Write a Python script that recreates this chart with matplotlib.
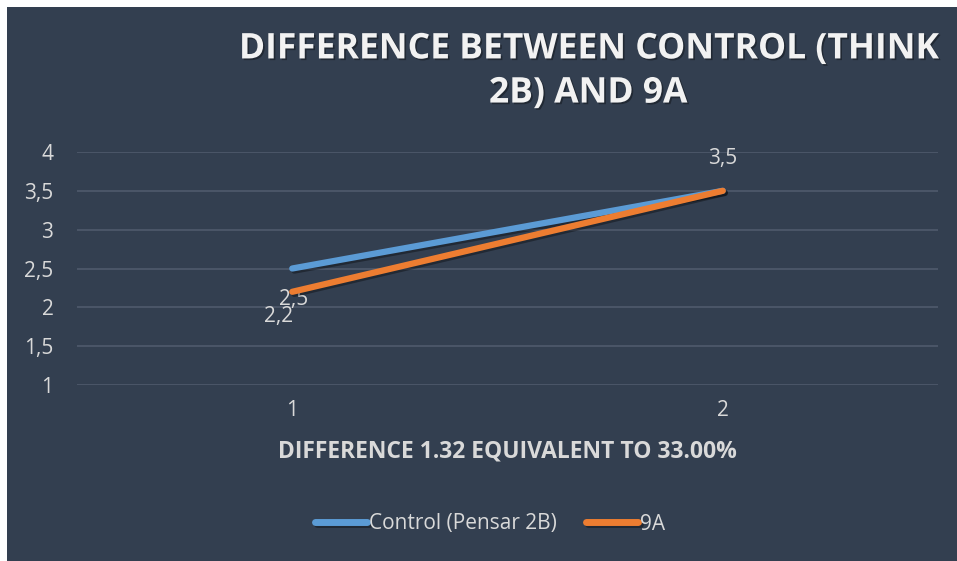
import matplotlib
matplotlib.use('Agg')
from matplotlib import pyplot as plt
from matplotlib.patches import Rectangle
import matplotlib.patheffects as pe

categories = [1, 2]
control = [2.5, 3.5]
group_9a = [2.2, 3.5]
series_names = ['Control (Pensar 2B)', '9A']
y_ticks = [1, 1.5, 2, 2.5, 3, 3.5, 4]
y_tick_labels = ['1', '1,5', '2', '2,5', '3', '3,5', '4']

bg = '#333f50'
txt = '#d9d9d9'
blue = '#5b9bd5'
orange = '#ed7d31'

plt.rcParams['font.family'] = ['Open Sans', 'DejaVu Sans']

fig = plt.figure(figsize=(9.57, 5.61), dpi=100)
fig.patch.set_facecolor('white')
fig.patches.append(Rectangle((7 / 957, 0), 1 - 7 / 957, 1 - 7 / 561,
                             transform=fig.transFigure, facecolor=bg,
                             edgecolor='none', zorder=-10))

ax = fig.add_axes([77 / 957, 1 - 385 / 561, (938 - 77) / 957, (385 - 152) / 561])
ax.set_facecolor(bg)

shadow = [pe.SimpleLineShadow(offset=(1.5, -1.5), shadow_color='black', alpha=0.35),
          pe.Normal()]
ax.plot(categories, control, color=blue, lw=4.5, solid_capstyle='round',
        label=series_names[0], path_effects=shadow, zorder=3)
ax.plot(categories, group_9a, color=orange, lw=4.5, solid_capstyle='round',
        label=series_names[1], path_effects=shadow, zorder=4)

# data labels
def fmt(v):
    return ('%g' % v).replace('.', ',')

lab_fs = 15
ax.annotate(fmt(control[0]), (categories[0], control[0]), xytext=(1, -22.5),
            textcoords='offset points', ha='center', va='center', color=txt, fontsize=lab_fs)
ax.annotate(fmt(group_9a[0]), (categories[0], group_9a[0]), xytext=(-10, -18),
            textcoords='offset points', ha='center', va='center', color=txt, fontsize=lab_fs)
ax.annotate(fmt(control[1]), (categories[1], control[1]), xytext=(0, 23),
            textcoords='offset points', ha='center', va='center', color=txt, fontsize=lab_fs)

ax.set_xlim(0.5, 2.5)
ax.set_ylim(1, 4)
ax.set_yticks(y_ticks)
ax.set_yticklabels(y_tick_labels)
ax.set_xticks(categories)
ax.set_xticklabels([str(c) for c in categories])
ax.tick_params(axis='both', length=0, colors=txt, labelsize=15)
ax.tick_params(axis='y', pad=17)
ax.tick_params(axis='x', pad=11)
ax.grid(axis='y', color='#4a5567', lw=1.5)
ax.set_axisbelow(True)
for s in ax.spines.values():
    s.set_visible(False)

ax.set_xlabel('DIFFERENCE 1.32 EQUIVALENT TO 33.00%', color=txt, fontsize=16.5,
              fontweight='bold', labelpad=13)

fig.text(588 / 957, 1 - 71.5 / 561, 'DIFFERENCE BETWEEN CONTROL (THINK\n2B) AND 9A',
         ha='center', va='center', color='#f2f2f2', fontsize=25.5, fontweight='bold',
         linespacing=1.3,
         path_effects=[pe.withSimplePatchShadow(offset=(1.2, -1.2), shadow_rgbFace='black', alpha=0.35)])

leg = fig.legend(loc='center', bbox_to_anchor=(490 / 957, 1 - 524 / 561), ncol=2,
                 frameon=False, fontsize=15, handlelength=2.5, handletextpad=0.1,
                 columnspacing=1.4, labelcolor=txt)
for line in leg.get_lines():
    line.set_linewidth(5)
    line.set_solid_capstyle('round')

fig.savefig('out.png', dpi=100, facecolor=fig.get_facecolor())
